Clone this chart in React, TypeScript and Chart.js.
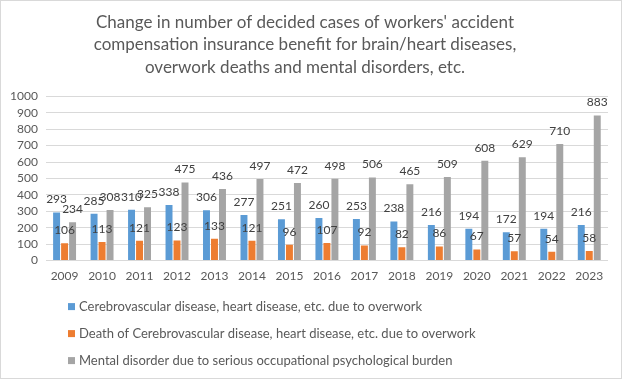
import React, { useEffect, useRef } from "react";
import { Chart, registerables } from "chart.js";

Chart.register(...registerables);

const categories = ["2009","2010","2011","2012","2013","2014","2015","2016","2017","2018","2019","2020","2021","2022","2023"];
const cerebroCases = [293, 285, 310, 338, 306, 277, 251, 260, 253, 238, 216, 194, 172, 194, 216];
const cerebroDeaths = [106, 113, 121, 123, 133, 121, 96, 107, 92, 82, 86, 67, 57, 54, 58];
const mentalCases = [234, 308, 325, 475, 436, 497, 472, 498, 506, 465, 509, 608, 629, 710, 883];
const seriesNames = [
  "Cerebrovascular disease, heart disease, etc. due to overwork",
  "Death of Cerebrovascular disease, heart disease, etc. due to overwork",
  "Mental disorder due to serious occupational psychological burden",
];
const seriesColors = ["#5B9BD5", "#ED7D31", "#A5A5A5"];
const titleLines = [
  "Change in number of decided cases of workers' accident",
  "compensation insurance benefit for brain/heart diseases,",
  "overwork deaths and mental disorders, etc.",
];

const FONT = "Lato, 'Open Sans', sans-serif";

const bgBorderPlugin = {
  id: "bgBorder",
  beforeDraw(chart: any) {
    const { ctx, width, height } = chart;
    ctx.save();
    ctx.fillStyle = "#ffffff";
    ctx.fillRect(0, 0, width, height);
    ctx.strokeStyle = "#D9D9D9";
    ctx.lineWidth = 1;
    ctx.strokeRect(0.5, 0.5, width - 1, height - 1);
    ctx.restore();
  },
};

const labelPlugin = {
  id: "barLabels",
  afterDatasetsDraw(chart: any) {
    const { ctx } = chart;
    ctx.save();
    ctx.font = `12px ${FONT}`;
    ctx.fillStyle = "#404040";
    ctx.textAlign = "center";
    ctx.textBaseline = "middle";
    chart.data.datasets.forEach((ds: any, i: number) => {
      const meta = chart.getDatasetMeta(i);
      meta.data.forEach((bar: any, j: number) => {
        ctx.fillText(String(ds.data[j]), bar.x, bar.y - 13);
      });
    });
    ctx.restore();
  },
};

const legendPlugin = {
  id: "customLegend",
  afterDraw(chart: any) {
    const { ctx } = chart;
    const base = chart.chartArea.bottom;
    const offsets = [46, 73, 100];
    ctx.save();
    ctx.font = `13px ${FONT}`;
    ctx.textAlign = "left";
    ctx.textBaseline = "middle";
    chart.data.datasets.forEach((ds: any, i: number) => {
      const y = base + offsets[i];
      ctx.fillStyle = ds.backgroundColor;
      ctx.fillRect(68, y - 3.5, 7, 7);
      ctx.fillStyle = "#595959";
      ctx.fillText(ds.label, 79, y);
    });
    ctx.restore();
  },
};

export default function App() {
  const ref = useRef<HTMLCanvasElement>(null);
  useEffect(() => {
    document.body.style.margin = "0";
    const datasets = [cerebroCases, cerebroDeaths, mentalCases].map((d, i) => ({
      label: seriesNames[i],
      data: d,
      backgroundColor: seriesColors[i],
      categoryPercentage: 0.64,
      barPercentage: 0.87,
    }));
    const chart = new Chart(ref.current!, {
      type: "bar",
      data: { labels: categories, datasets },
      plugins: [bgBorderPlugin, labelPlugin, legendPlugin],
      options: {
        animation: false,
        responsive: false,
        layout: { padding: { left: 2, right: 14, top: 0, bottom: 88 } },
        plugins: {
          legend: { display: false },
          tooltip: { enabled: false },
          title: {
            display: true,
            text: titleLines,
            color: "#595959",
            font: { family: FONT, size: 17, weight: "normal", lineHeight: 1.32 },
            padding: { top: 11, bottom: 18 },
          },
        },
        scales: {
          x: {
            grid: { display: false, drawTicks: false },
            border: { display: false },
            ticks: { color: "#595959", font: { family: FONT, size: 12 }, padding: 8 },
          },
          y: {
            min: 0,
            max: 1000,
            grid: { color: "#D9D9D9", drawTicks: false },
            border: { display: false },
            ticks: {
              stepSize: 100,
              autoSkip: false,
              color: "#595959",
              font: { family: FONT, size: 12 },
              padding: 8,
              callback: (v: any) => String(v),
            },
          },
        },
      },
    });
    return () => chart.destroy();
  }, []);
  return (
    <div style={{ width: 622, height: 379 }}>
      <canvas ref={ref} width={622} height={379} />
    </div>
  );
}
